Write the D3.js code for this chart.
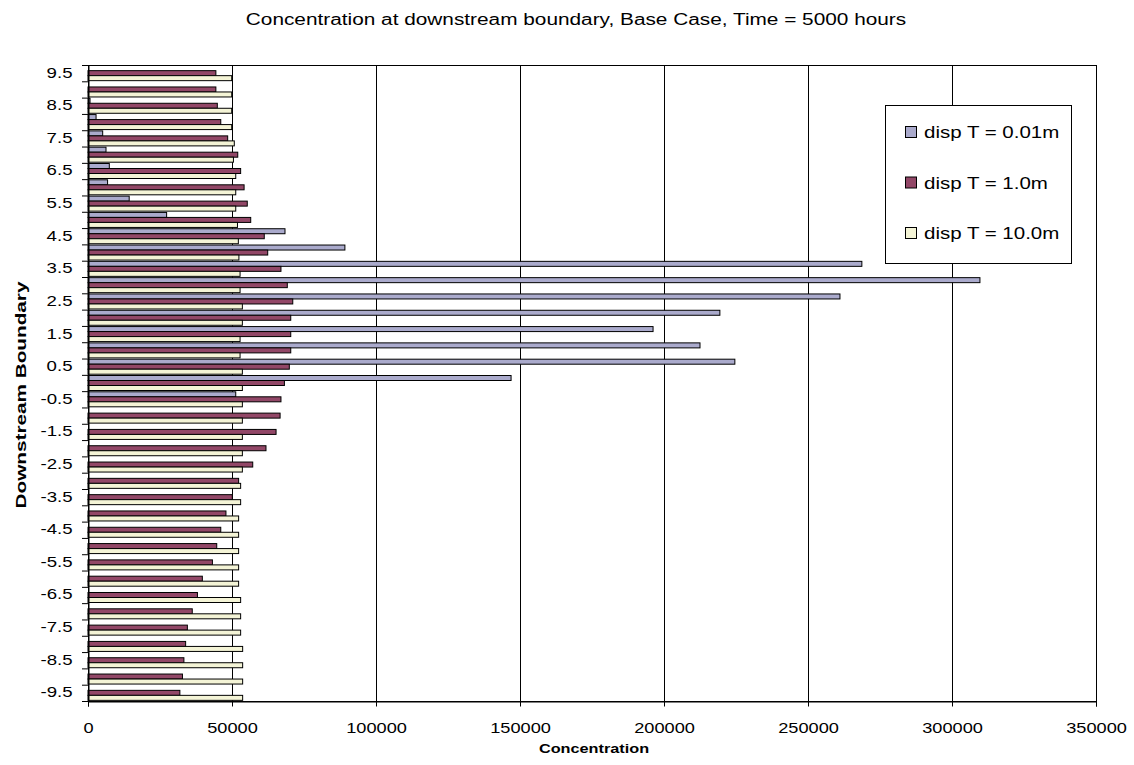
<!DOCTYPE html>
<html>
<head>
<meta charset="utf-8">
<script src="https://cdn.jsdelivr.net/npm/d3@7"></script>
<style>
  body { margin: 0; background: #fff; }
  text { font-family: "Liberation Sans", Arial, sans-serif; fill: #000; }
</style>
</head>
<body>
<div id="chart"></div>
<script>
// Downstream boundary positions, top row first
const positions = [
  9.5, 9.0, 8.5, 8.0, 7.5, 7.0, 6.5, 6.0, 5.5, 5.0,
  4.5, 4.0, 3.5, 3.0, 2.5, 2.0, 1.5, 1.0, 0.5, 0.0,
  -0.5, -1.0, -1.5, -2.0, -2.5, -3.0, -3.5, -4.0, -4.5, -5.0,
  -5.5, -6.0, -6.5, -7.0, -7.5, -8.0, -8.5, -9.0, -9.5
];
const positionLabels = [
  9.5, 8.5, 7.5, 6.5, 5.5, 4.5, 3.5, 2.5, 1.5, 0.5,
  -0.5, -1.5, -2.5, -3.5, -4.5, -5.5, -6.5, -7.5, -8.5, -9.5
];

const seriesNames = ["disp T = 0.01m", "disp T = 1.0m", "disp T = 10.0m"];

const disp001 = [
  0, 0, 700, 2800, 5100, 6250, 7400, 6800, 14300, 27300,
  68400, 89200, 268700, 309700, 261100, 219400, 196200, 212500, 224600, 146900,
  51300, 0, 0, 0, 0, 0, 0, 0, 0, 0,
  0, 0, 0, 0, 0, 0, 0, 0, 0
];
const disp1 = [
  44400, 44400, 44900, 46100, 48500, 52000, 53000, 54200, 55300, 56500,
  61200, 62400, 67000, 69200, 71100, 70400, 70400, 70400, 69900, 68200,
  67000, 66700, 65300, 61800, 57200, 52300, 50100, 47900, 46100, 44700,
  43200, 39700, 38000, 36200, 34500, 33900, 33300, 32800, 31900
];
const disp10 = [
  49900, 49900, 49900, 49900, 50800, 50500, 51300, 51300, 51300, 51900,
  52200, 52400, 52800, 52800, 53600, 53600, 52800, 52800, 53600, 53600,
  53600, 53600, 53600, 53600, 53600, 53000, 53000, 52300, 52300, 52300,
  52300, 52300, 53000, 53000, 53000, 53700, 53700, 53700, 53700
];

const xTicks = [0, 50000, 100000, 150000, 200000, 250000, 300000, 350000];
const colors = ["#aaaacc", "#924767", "#f4f4d6"];

const width = 1134;
const height = 765;
const margin = { top: 65, right: 38, bottom: 64, left: 88 };

const seriesValues = [disp001, disp1, disp10];
const rows = positions.map((p, i) => ({
  pos: p,
  values: seriesValues.map((s, j) => ({ key: seriesNames[j], value: s[i] }))
}));

// widen text the way the original (stretched) image shows it
function stretch(sel, k) {
  sel.each(function () {
    const len = this.getComputedTextLength();
    this.setAttribute("textLength", len * k);
    this.setAttribute("lengthAdjust", "spacingAndGlyphs");
  });
}

const svg = d3
  .select("#chart")
  .append("svg")
  .attr("width", width)
  .attr("height", height);

svg.append("rect").attr("width", width).attr("height", height).attr("fill", "#fff");

const x = d3
  .scaleLinear()
  .domain([0, 350000])
  .range([margin.left, width - margin.right]);

const y = d3
  .scaleBand()
  .domain(positions)
  .range([margin.top, height - margin.bottom]);

const ySeries = d3
  .scaleBand()
  .domain(seriesNames)
  .range([0, y.bandwidth()])
  .paddingOuter(0.13);

// plot area background
svg
  .append("rect")
  .attr("x", margin.left)
  .attr("y", margin.top)
  .attr("width", x(350000) - margin.left)
  .attr("height", height - margin.bottom - margin.top)
  .attr("fill", "#fff");

// vertical grid lines
svg
  .append("g")
  .selectAll("line")
  .data(xTicks.slice(1, -1))
  .join("line")
  .attr("x1", (d) => x(d) + 0.5)
  .attr("x2", (d) => x(d) + 0.5)
  .attr("y1", margin.top)
  .attr("y2", height - margin.bottom)
  .attr("stroke", "#000")
  .attr("stroke-width", 1);

// bars
const groups = svg
  .append("g")
  .selectAll("g")
  .data(rows)
  .join("g")
  .attr("transform", (d) => `translate(0,${y(d.pos)})`);

groups
  .selectAll("rect")
  .data((d) => d.values)
  .join("rect")
  .attr("x", x(0))
  .attr("y", (d) => ySeries(d.key))
  .attr("width", (d) => x(d.value) - x(0))
  .attr("height", ySeries.bandwidth())
  .attr("fill", (d, i) => colors[i])
  .attr("stroke", "#000")
  .attr("stroke-width", 1);

// plot border
svg
  .append("rect")
  .attr("x", margin.left + 0.5)
  .attr("y", margin.top + 0.5)
  .attr("width", x(350000) - margin.left)
  .attr("height", height - margin.bottom - margin.top)
  .attr("fill", "none")
  .attr("stroke", "#000")
  .attr("stroke-width", 1);

// x axis
const xAxis = svg
  .append("g")
  .attr("transform", `translate(0,${height - margin.bottom + 0.5})`)
  .call(
    d3.axisBottom(x).tickValues(xTicks).tickSize(5).tickPadding(17).tickFormat(d3.format("d"))
  );
xAxis.select(".domain").attr("stroke", "#000");
xAxis.selectAll(".tick line").attr("stroke", "#000");
xAxis
  .selectAll("text")
  .attr("font-size", "14px")
  .attr("font-family", '"Liberation Sans", Arial, sans-serif')
  .call(stretch, 1.3);

// y axis labels (every other position)
const yAxis = svg
  .append("g")
  .attr("transform", `translate(${margin.left + 0.5},0)`)
  .call(
    d3
      .axisLeft(y)
      .tickValues(positionLabels)
      .tickSize(0)
      .tickPadding(16)
      .tickFormat((d) => d3.format(".1f")(d).replace("\u2212", "-"))
  );
yAxis.select(".domain").attr("stroke", "#000");
yAxis
  .selectAll("text")
  .attr("font-size", "14px")
  .attr("font-family", '"Liberation Sans", Arial, sans-serif')
  .call(stretch, 1.33);

// y tick marks between categories
svg
  .append("g")
  .selectAll("line")
  .data(positions.concat(["end"]))
  .join("line")
  .attr("x1", margin.left - 6)
  .attr("x2", margin.left)
  .attr("y1", (d) => (d === "end" ? height - margin.bottom : y(d)) + 0.5)
  .attr("y2", (d) => (d === "end" ? height - margin.bottom : y(d)) + 0.5)
  .attr("stroke", "#000");

// title
svg
  .append("text")
  .attr("x", 576)
  .attr("y", 25)
  .attr("text-anchor", "middle")
  .attr("font-size", "16px")
  .text("Concentration at downstream boundary, Base Case, Time = 5000 hours")
  .call(stretch, 1.3);

// axis titles
svg
  .append("text")
  .attr("x", 594)
  .attr("y", 753)
  .attr("text-anchor", "middle")
  .attr("font-size", "13px")
  .attr("font-weight", "bold")
  .text("Concentration")
  .call(stretch, 1.25);

svg
  .append("text")
  .attr("transform", "translate(26,395) rotate(-90)")
  .attr("text-anchor", "middle")
  .attr("font-size", "14px")
  .attr("font-weight", "bold")
  .text("Downstream Boundary")
  .call(stretch, 1.48);

// legend
const legend = svg.append("g").attr("transform", "translate(885,105)");
legend
  .append("rect")
  .attr("x", 0.5)
  .attr("y", 0.5)
  .attr("width", 186)
  .attr("height", 158)
  .attr("fill", "#fff")
  .attr("stroke", "#000");

const items = legend
  .selectAll(".item")
  .data(seriesNames)
  .join("g")
  .attr("class", "item")
  .attr("transform", (d, i) => `translate(20,${27 + i * 50.5})`);

items
  .append("rect")
  .attr("x", 0.5)
  .attr("y", -5.5)
  .attr("width", 11)
  .attr("height", 11)
  .attr("fill", (d, i) => colors[i])
  .attr("stroke", "#000");

items
  .append("text")
  .attr("x", 19)
  .attr("y", 6)
  .attr("font-size", "16px")
  .text((d) => d)
  .call(stretch, 1.28);
</script>
</body>
</html>
